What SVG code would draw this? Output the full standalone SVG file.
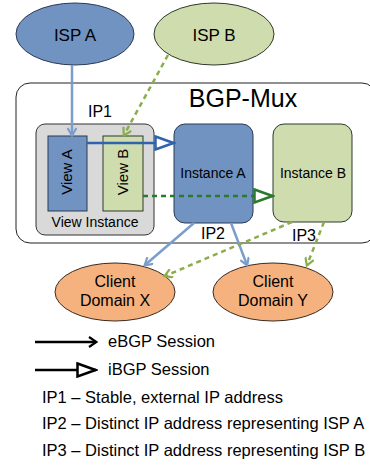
<svg xmlns="http://www.w3.org/2000/svg" width="370" height="467" viewBox="0 0 370 467">
<defs>
<style>
text{font-family:"Liberation Sans",Arial,sans-serif;fill:#000}
.blue{fill:#7093c2;stroke:#2b3a55;stroke-width:1}
.green{fill:#cfdcae;stroke:#2b3a2b;stroke-width:1}
.orange{fill:#f5b27f;stroke:#3a2a20;stroke-width:1}
.lb{stroke:#7b9dcb;stroke-width:2.5;fill:none}
.lg{stroke:#8aae4a;stroke-width:2.5;fill:none;stroke-dasharray:5,4}
.db{stroke:#2f63ae;stroke-width:2.5;fill:none}
.dg{stroke:#2a7a2e;stroke-width:2.5;fill:none;stroke-dasharray:5,4}
.t14{font-size:14px}
.t15{font-size:15px}
.lgd{font-size:16.5px}
</style>
<marker id="vb" markerWidth="10" markerHeight="10" refX="8" refY="5" orient="auto" markerUnits="userSpaceOnUse"><path d="M1,0.5 L8.5,5 L1,9.5" fill="none" stroke="#7b9dcb" stroke-width="2.2"/></marker>
<marker id="vg" markerWidth="10" markerHeight="10" refX="8" refY="5" orient="auto" markerUnits="userSpaceOnUse"><path d="M1,0.5 L8.5,5 L1,9.5" fill="none" stroke="#8aae4a" stroke-width="2.2"/></marker>
<marker id="tb" markerWidth="22" markerHeight="16" refX="20" refY="8" orient="auto" markerUnits="userSpaceOnUse"><path d="M1.5,1.5 L19.5,8 L1.5,14.5 Z" fill="#fff" stroke="#2f63ae" stroke-width="2.5"/></marker>
<marker id="tg" markerWidth="22" markerHeight="16" refX="20" refY="8" orient="auto" markerUnits="userSpaceOnUse"><path d="M1.5,1.5 L19.5,8 L1.5,14.5 Z" fill="#fff" stroke="#2a7a2e" stroke-width="2.5"/></marker>
<marker id="vk" markerWidth="10" markerHeight="12" refX="8" refY="6" orient="auto" markerUnits="userSpaceOnUse"><path d="M1,1 L8.5,6 L1,11" fill="none" stroke="#000" stroke-width="2.2"/></marker>
<marker id="tk" markerWidth="22" markerHeight="16" refX="20" refY="8" orient="auto" markerUnits="userSpaceOnUse"><path d="M1.5,1.5 L19.5,8 L1.5,14.5 Z" fill="#fff" stroke="#000" stroke-width="2.5"/></marker>
</defs>
<rect width="370" height="467" fill="#fff"/>

<g id="bgp-mux">
<rect x="16" y="83" width="360" height="160" rx="14" fill="#fff" stroke="#222" stroke-width="1"/>
<text x="243" y="107" font-size="25" text-anchor="middle">BGP-Mux</text>
<text x="100" y="117" font-size="16" text-anchor="middle">IP1</text>
<text x="213" y="239" font-size="16" text-anchor="middle">IP2</text>
<text x="304" y="241" font-size="16" text-anchor="middle">IP3</text>
</g>

<g id="isp-a"><ellipse cx="75" cy="34" rx="59" ry="31" class="blue"/><text x="75" y="41" font-size="17" text-anchor="middle">ISP A</text></g>
<g id="isp-b"><ellipse cx="214" cy="34" rx="60" ry="31" class="green"/><text x="214" y="41" font-size="17" text-anchor="middle">ISP B</text></g>

<g id="view-instance">
<rect x="36" y="124" width="118" height="111" rx="9" fill="#d9d9d9" stroke="#333" stroke-width="1"/>
<text x="95" y="227" class="t14" text-anchor="middle">View Instance</text>
</g>
<g id="view-a"><rect x="48" y="136" width="39" height="75" class="blue"/><text transform="translate(72,172) rotate(-90)" class="t15" text-anchor="middle">View A</text></g>
<g id="view-b"><rect x="103" y="136" width="40" height="75" class="green"/><text transform="translate(128,172) rotate(-90)" class="t15" text-anchor="middle">View B</text></g>

<g id="instance-a"><rect x="174" y="124" width="79" height="99" rx="11" class="blue"/><text x="213" y="178" font-size="14" text-anchor="middle">Instance A</text></g>
<g id="instance-b"><rect x="273" y="124" width="79" height="98" rx="11" class="green"/><text x="313" y="178" font-size="14" text-anchor="middle">Instance B</text></g>

<g id="client-x"><ellipse cx="115" cy="292" rx="60" ry="29" class="orange"/><text x="115" y="287" font-size="16" text-anchor="middle">Client</text><text x="115" y="306" font-size="16" text-anchor="middle">Domain X</text></g>
<g id="client-y"><ellipse cx="273" cy="292" rx="60" ry="29" class="orange"/><text x="273" y="287" font-size="16" text-anchor="middle">Client</text><text x="273" y="306" font-size="16" text-anchor="middle">Domain Y</text></g>

<g id="connectors">
<line x1="72" y1="65" x2="72" y2="135" class="lb" marker-end="url(#vb)"/>
<line x1="168" y1="55" x2="124" y2="135" class="lg" marker-end="url(#vg)"/>
<line x1="87" y1="143" x2="174" y2="143" class="db" marker-end="url(#tb)"/>
<line x1="143" y1="196" x2="273" y2="196" class="dg" marker-end="url(#tg)"/>
<line x1="194" y1="223" x2="145" y2="265" class="lb" marker-end="url(#vb)"/>
<line x1="231" y1="223" x2="247" y2="265" class="lb" marker-end="url(#vb)"/>
<line x1="292" y1="222" x2="165" y2="276" class="lg" marker-end="url(#vg)"/>
<line x1="324" y1="222" x2="307" y2="265" class="lg" marker-end="url(#vg)"/>
</g>

<g id="legend">
<line x1="35" y1="342" x2="96" y2="342" stroke="#000" stroke-width="2.5" marker-end="url(#vk)"/>
<text x="108" y="347" class="lgd">eBGP Session</text>
<line x1="35" y1="370" x2="96" y2="370" stroke="#000" stroke-width="2.5" marker-end="url(#tk)"/>
<text x="108" y="375" class="lgd">iBGP Session</text>
<text x="42" y="403" class="lgd">IP1 – Stable, external IP address</text>
<text x="42" y="429" class="lgd">IP2 – Distinct IP address representing ISP A</text>
<text x="42" y="456" class="lgd">IP3 – Distinct IP address representing ISP B</text>
</g>
</svg>
